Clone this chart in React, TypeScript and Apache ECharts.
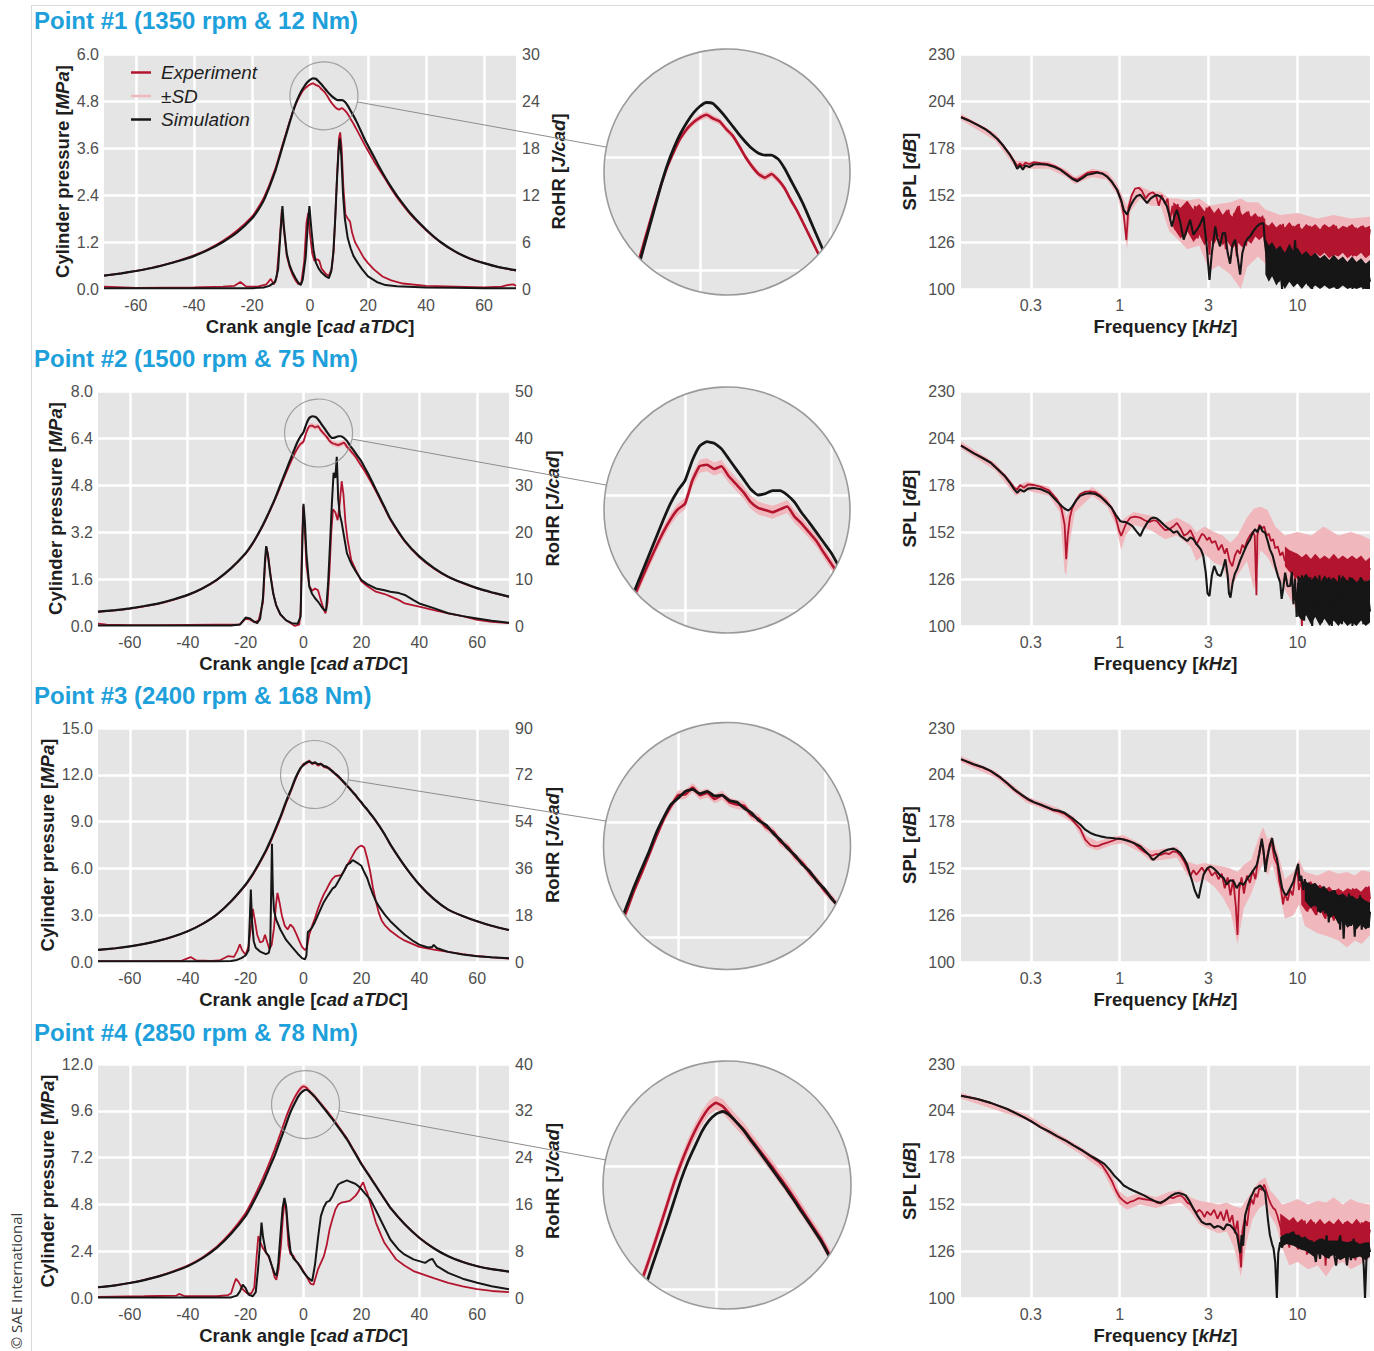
import React, { useEffect, useRef } from 'react';
import * as echarts from 'echarts';

// ---------------- DATA ----------------
const TITLES = ['Point #1 (1350 rpm & 12 Nm)', 'Point #2 (1500 rpm & 75 Nm)', 'Point #3 (2400 rpm & 168 Nm)', 'Point #4 (2850 rpm & 78 Nm)'];
const CA_TICKS = [-60, -40, -20, 0, 20, 40, 60];
const SPL_TICK_KHZ = [0.3162, 1, 3.162, 10];
const SPL_TICK_LABELS = ['0.3', '1', '3', '10'];
const PRESS_MAX = [6, 8, 15, 12];
const PRESS_STEP = [1.2, 1.6, 3, 2.4];
const ROHR_MAX = [30, 50, 90, 40];
const ROHR_STEP = [6, 10, 18, 8];
const SPL_MIN = 100, SPL_MAX = 230, SPL_STEP = 26;
const FREQ_MIN = 0.128, FREQ_MAX = 25.6;

const PRESS_ANGLE = [-71, -65, -60, -55, -50, -45, -40, -35, -30, -25,
  -20, -18, -16, -14,
  -13, -12, -11, -10, -9, -8, -7, -6, -5, -4, -3, -2, -1,
  0, 1, 2, 3, 4, 5, 6, 7, 8, 9, 10, 11, 12, 13, 14, 15, 16, 17, 18, 19, 20, 21, 22, 23, 24,
  26, 28, 30,
  35, 40, 45, 50, 55, 60, 65, 71];

const P1_SIM = [0.34, 0.40, 0.46, 0.53, 0.62, 0.72, 0.84, 1.00, 1.20, 1.45,
  1.80, 2.00, 2.25, 2.60,
  2.80, 3.00, 3.25, 3.50, 3.75, 4.00, 4.25, 4.50, 4.72, 4.90, 5.05, 5.17, 5.27,
  5.34, 5.38, 5.37, 5.30, 5.22, 5.13, 5.04, 4.96, 4.89, 4.84, 4.82, 4.82, 4.78, 4.68, 4.55, 4.42, 4.28, 4.12, 3.96, 3.80, 3.66, 3.52, 3.38, 3.24, 3.10,
  2.84, 2.60, 2.38,
  1.90, 1.52, 1.20, 0.96, 0.78, 0.66, 0.56, 0.48];
const P1_EXP = [0.34, 0.40, 0.46, 0.53, 0.62, 0.73, 0.86, 1.02, 1.23, 1.50,
  1.85, 2.06, 2.32, 2.66,
  2.86, 3.06, 3.30, 3.55, 3.80, 4.04, 4.28, 4.50, 4.70, 4.86, 5.00, 5.10, 5.17,
  5.22, 5.25, 5.21, 5.18, 5.10, 5.03, 4.92, 4.80, 4.70, 4.62, 4.58, 4.62, 4.56, 4.47, 4.34, 4.22, 4.08, 3.94, 3.80, 3.66, 3.53, 3.40, 3.27, 3.15, 3.03,
  2.80, 2.56, 2.34,
  1.87, 1.50, 1.19, 0.95, 0.78, 0.66, 0.56, 0.47];
const P1_SD = [0.01, 0.01, 0.01, 0.01, 0.01, 0.01, 0.01, 0.015, 0.015, 0.015,
  0.02, 0.02, 0.02, 0.025,
  0.025, 0.025, 0.03, 0.03, 0.03, 0.03, 0.03, 0.03, 0.035, 0.035, 0.035, 0.035, 0.035,
  0.035, 0.035, 0.035, 0.035, 0.035, 0.035, 0.035, 0.035, 0.035, 0.035, 0.035, 0.035, 0.035, 0.035, 0.035, 0.03, 0.03, 0.03, 0.03, 0.03, 0.03, 0.03, 0.03, 0.03, 0.03,
  0.025, 0.025, 0.02,
  0.02, 0.015, 0.015, 0.01, 0.01, 0.01, 0.01, 0.01];

const P2_SIM = [0.49, 0.54, 0.60, 0.68, 0.77, 0.90, 1.06, 1.28, 1.57, 1.97,
  2.48, 2.75, 3.08, 3.45,
  3.65, 3.86, 4.08, 4.30, 4.55, 4.80, 5.05, 5.30, 5.55, 5.80, 6.05, 6.28, 6.46,
  6.60, 6.88, 7.08, 7.14, 7.12, 7.04, 6.90, 6.76, 6.62, 6.48, 6.40, 6.42, 6.46, 6.46, 6.40, 6.30, 6.15, 6.02, 5.88, 5.74, 5.60, 5.42, 5.24, 5.05, 4.85,
  4.45, 4.05, 3.65,
  2.90, 2.37, 1.98, 1.68, 1.47, 1.29, 1.15, 1.00];
const P2_EXP = [0.48, 0.53, 0.59, 0.67, 0.76, 0.89, 1.05, 1.27, 1.56, 1.96,
  2.46, 2.73, 3.06, 3.42,
  3.62, 3.83, 4.05, 4.27, 4.50, 4.74, 4.98, 5.22, 5.45, 5.67, 5.88, 6.06, 6.20,
  6.28, 6.60, 6.80, 6.82, 6.76, 6.80, 6.66, 6.55, 6.44, 6.30, 6.22, 6.19, 6.16, 6.20, 6.24, 6.10, 6.00, 5.88, 5.76, 5.60, 5.45, 5.30, 5.13, 4.96, 4.78,
  4.40, 4.01, 3.62,
  2.88, 2.35, 1.96, 1.67, 1.46, 1.28, 1.14, 0.99];
const P2_SD = [0.02, 0.02, 0.02, 0.02, 0.03, 0.03, 0.03, 0.04, 0.04, 0.05,
  0.05, 0.06, 0.06, 0.06,
  0.07, 0.07, 0.07, 0.07, 0.07, 0.08, 0.08, 0.08, 0.08, 0.08, 0.08, 0.08, 0.08,
  0.08, 0.09, 0.09, 0.09, 0.09, 0.09, 0.09, 0.09, 0.09, 0.09, 0.09, 0.09, 0.09, 0.09, 0.09, 0.09, 0.09, 0.08, 0.08, 0.08, 0.08, 0.08, 0.08, 0.08, 0.07,
  0.07, 0.06, 0.06,
  0.05, 0.04, 0.04, 0.03, 0.03, 0.03, 0.02, 0.02];

const P3_SIM = [0.78, 0.88, 1.00, 1.16, 1.37, 1.63, 1.97, 2.43, 3.04, 3.90,
  4.97, 5.50, 6.12, 6.80,
  7.15, 7.55, 7.95, 8.40, 8.85, 9.30, 9.80, 10.30, 10.76, 11.20, 11.70, 12.10, 12.45,
  12.62, 12.80, 12.85, 12.74, 12.80, 12.68, 12.70, 12.56, 12.52, 12.36, 12.24, 12.04, 11.92, 11.70, 11.52, 11.30, 11.12, 10.88, 10.70, 10.44, 10.24, 9.98, 9.78, 9.52, 9.30,
  8.78, 8.20, 7.54,
  6.15, 4.97, 4.05, 3.36, 2.95, 2.61, 2.32, 2.05];
const P3_EXP = [0.78, 0.88, 1.00, 1.16, 1.37, 1.63, 1.97, 2.43, 3.03, 3.88,
  4.93, 5.45, 6.05, 6.72,
  7.07, 7.46, 7.86, 8.30, 8.72, 9.20, 9.68, 10.20, 10.65, 11.12, 11.60, 12.05, 12.40,
  12.70, 12.72, 12.90, 12.70, 12.76, 12.60, 12.70, 12.52, 12.46, 12.42, 12.18, 12.08, 11.86, 11.74, 11.48, 11.34, 11.08, 10.92, 10.66, 10.46, 10.20, 10.00, 9.75, 9.54, 9.28,
  8.76, 8.18, 7.52,
  6.13, 4.96, 4.04, 3.35, 2.94, 2.60, 2.31, 2.04];
const P3_SD = [0.03, 0.03, 0.03, 0.04, 0.04, 0.05, 0.05, 0.06, 0.06, 0.07,
  0.08, 0.08, 0.09, 0.09,
  0.10, 0.10, 0.10, 0.10, 0.10, 0.10, 0.11, 0.11, 0.11, 0.11, 0.11, 0.11, 0.11,
  0.12, 0.12, 0.12, 0.12, 0.12, 0.12, 0.12, 0.12, 0.12, 0.12, 0.12, 0.11, 0.11, 0.11, 0.11, 0.11, 0.11, 0.11, 0.11, 0.10, 0.10, 0.10, 0.10, 0.10, 0.10,
  0.09, 0.09, 0.08,
  0.07, 0.06, 0.05, 0.05, 0.04, 0.04, 0.03, 0.03];

const P4_SIM = [0.55, 0.65, 0.77, 0.92, 1.11, 1.35, 1.63, 2.03, 2.57, 3.30,
  4.20, 4.72, 5.30, 5.90,
  6.25, 6.60, 6.95, 7.29, 7.70, 8.10, 8.50, 8.92, 9.34, 9.70, 10.00, 10.29, 10.50,
  10.63, 10.68, 10.60, 10.46, 10.30, 10.11, 9.93, 9.74, 9.55, 9.36, 9.17, 8.97, 8.76, 8.56, 8.35, 8.14, 7.89, 7.63, 7.38, 7.12, 6.86, 6.64, 6.42, 6.20, 5.97,
  5.52, 5.07, 4.63,
  3.78, 3.09, 2.55, 2.14, 1.85, 1.63, 1.48, 1.35];
const P4_EXP = [0.55, 0.65, 0.77, 0.93, 1.12, 1.37, 1.66, 2.07, 2.62, 3.38,
  4.35, 4.90, 5.50, 6.15,
  6.50, 6.85, 7.22, 7.60, 8.00, 8.42, 8.85, 9.28, 9.66, 10.00, 10.30, 10.55, 10.75,
  10.85, 10.78, 10.62, 10.46, 10.32, 10.14, 9.96, 9.78, 9.60, 9.41, 9.22, 9.02, 8.81, 8.60, 8.39, 8.18, 7.93, 7.67, 7.42, 7.16, 6.90, 6.67, 6.44, 6.22, 5.99,
  5.53, 5.08, 4.63,
  3.78, 3.09, 2.55, 2.14, 1.85, 1.63, 1.48, 1.35];
const P4_SD = [0.03, 0.03, 0.04, 0.04, 0.05, 0.05, 0.06, 0.07, 0.08, 0.09,
  0.10, 0.10, 0.11, 0.11,
  0.12, 0.12, 0.12, 0.13, 0.13, 0.13, 0.13, 0.13, 0.14, 0.14, 0.14, 0.14, 0.14,
  0.14, 0.14, 0.14, 0.14, 0.14, 0.13, 0.13, 0.13, 0.13, 0.13, 0.13, 0.13, 0.13, 0.12, 0.12, 0.12, 0.12, 0.12, 0.12, 0.12, 0.11, 0.11, 0.11, 0.11, 0.10,
  0.10, 0.09, 0.09,
  0.08, 0.07, 0.06, 0.05, 0.05, 0.04, 0.04, 0.03];

// Rate of heat release [cad, J/cad]
const R1_SIM = [[-71, 0.1], [-40, 0.1], [-20, 0.1], [-16, 0.2], [-14, 0.4], [-12, 0.9], [-11, 2.5], [-10.2, 7], [-9.5, 10.6], [-9, 8], [-8, 4.5], [-7, 3], [-6, 2.1], [-5, 1.4], [-4, 0.8], [-3.2, 0.5], [-2.5, 1.2], [-1.5, 4], [-0.8, 8], [-0.2, 10.6], [0.5, 7.5], [1.2, 5], [2, 3.4], [3, 2.6], [4, 2.1], [5.5, 1.6], [6.5, 1.4], [7.3, 2.2], [8, 4.5], [8.7, 9], [9.3, 14], [9.9, 18], [10.3, 19.2], [10.8, 17], [11.4, 12], [12, 9], [13, 6.5], [14, 5.2], [15, 4.2], [16.5, 3.3], [18, 2.5], [20, 1.6], [23, 0.9], [26, 0.5], [30, 0.35], [40, 0.2], [50, 0.15], [60, 0.1], [71, 0.1]];
const R1_EXP = [[-71, 0.3], [-60, 0.15], [-40, 0.2], [-30, 0.3], [-26, 0.4], [-24, 0.9], [-22, 0.3], [-18, 0.3], [-15, 0.6], [-13.5, 1.3], [-12.5, 0.6], [-11.5, 1.5], [-10.5, 6], [-9.7, 10.2], [-9, 7.5], [-8, 4.2], [-7, 2.8], [-6, 1.8], [-5, 1.1], [-4, 0.6], [-3, 0.8], [-2, 3.5], [-1.2, 8.5], [-0.6, 9.7], [0, 7], [0.8, 4.5], [1.5, 3.6], [2.5, 3.8], [3.2, 3.6], [4, 2.6], [5.5, 1.9], [6.5, 1.7], [7.5, 2.6], [8.2, 5], [8.8, 10], [9.4, 15], [10, 19.3], [10.4, 20], [10.9, 18], [11.5, 13], [12.2, 9.5], [13, 9], [13.8, 8.6], [14.5, 7.2], [15.5, 6], [17, 5], [18.5, 4], [20, 3.3], [22, 2.5], [25, 1.6], [28, 1.1], [32, 0.7], [40, 0.4], [50, 0.3], [60, 0.2], [66, 0.3], [68, 0.5], [70, 0.6], [71, 0.4]];
const R2_SIM = [[-71, 0.1], [-40, 0.1], [-25, 0.1], [-22, 0.3], [-20, 1.8], [-18.5, 1.6], [-17, 0.9], [-16, 0.6], [-15, 1.5], [-14, 6], [-13.3, 14], [-12.9, 17], [-12.3, 15], [-11.5, 11], [-10.5, 7], [-9.5, 4.5], [-8, 2.5], [-6, 1.2], [-4, 0.6], [-2, 0.5], [-1, 2], [-0.5, 15], [0, 26], [0.5, 22], [1, 15.5], [2, 8.4], [3, 6.8], [4, 5.9], [5, 5.2], [6, 4.3], [7, 3.5], [7.8, 3.3], [8.5, 9], [9.2, 18], [9.8, 26], [10.4, 32.6], [11, 31.5], [11.5, 36], [12, 27], [12.6, 23.5], [13.2, 22], [14, 19.1], [15, 15.5], [16, 14], [17, 12.7], [18.5, 11.2], [20, 9.8], [22, 8.9], [25, 8], [28, 7.6], [30, 7.3], [33, 7], [35, 6.6], [38, 5.5], [40, 4.8], [45, 3.8], [50, 2.7], [55, 2.1], [60, 1.6], [65, 1.1], [71, 0.7]];
const R2_EXP = [[-71, 0.5], [-68, 0.3], [-60, 0.2], [-50, 0.2], [-40, 0.25], [-30, 0.3], [-22, 0.3], [-20, 1.5], [-18.5, 1.4], [-17, 0.8], [-15.5, 1.2], [-14, 5], [-13.3, 13], [-12.8, 16.8], [-12.2, 15], [-11.3, 10.5], [-10.3, 6.5], [-9.3, 4.2], [-8, 2.4], [-6, 1.2], [-4, 0.4], [-3, 0], [-1.5, 0.3], [-1, 3], [-0.5, 18], [-0.1, 25.5], [0.4, 21], [1, 13], [2, 8.5], [3, 7.5], [4, 8], [5, 7.6], [6, 5.5], [7, 3.5], [7.6, 2.7], [8.3, 5], [9, 12], [9.6, 20], [10.2, 24.8], [11, 24.2], [11.8, 22.5], [12.5, 26], [13.2, 30.8], [13.8, 28], [14.5, 22], [15.2, 18.5], [16.5, 14], [18, 12], [20, 9.5], [22, 8.5], [25, 7.3], [28, 6.8], [30, 6.3], [33, 5.5], [35, 4.8], [38, 4.4], [40, 4.1], [45, 3.4], [50, 2.7], [55, 2.1], [60, 1.3], [65, 0.9], [71, 0.6]];
const R3_SIM = [[-71, 0.3], [-50, 0.3], [-30, 0.3], [-25, 0.4], [-23, 0.8], [-21.5, 1.5], [-20, 2.5], [-19, 4.5], [-18.6, 15], [-18.2, 27.9], [-17.8, 16], [-17.2, 8], [-16.5, 5.5], [-15, 4], [-13, 3], [-12, 3.5], [-11.5, 6], [-11.2, 25], [-10.9, 45.5], [-10.6, 28], [-10.2, 20], [-9.5, 16.5], [-8, 12.5], [-6, 8.5], [-4, 5.8], [-2, 3.2], [-0.5, 1.5], [0.5, 1], [1, 2.5], [1.5, 11.5], [2.2, 12.2], [3, 13.3], [4, 15.5], [5, 18], [6, 20.5], [7, 23], [8, 24.8], [9, 26.5], [10, 28.2], [11, 29], [12, 31], [13, 33], [14, 35], [15, 37.3], [16, 38], [17, 39.2], [18, 38.5], [19, 37.8], [20, 37], [21, 34.5], [22, 32.3], [23, 29], [24, 26], [25, 23.4], [26, 21.5], [28, 18.3], [30, 15.7], [33, 12.5], [35, 10.5], [38, 8], [40, 6.7], [43, 5.6], [44.5, 5.8], [45, 6.6], [46, 5.4], [48, 4.6], [50, 3.9], [55, 2.9], [60, 2.2], [65, 1.8], [71, 1.4]];
const R3_EXP = [[-71, 0.3], [-50, 0.4], [-42, 0.5], [-39, 1.9], [-37, 0.6], [-32, 0.4], [-29, 0.6], [-26, 2.3], [-24, 2], [-22.8, 4.5], [-22, 6.8], [-21.2, 4.5], [-20, 2.8], [-19, 6], [-18.2, 13], [-17.5, 20.4], [-16.8, 16], [-16, 10.5], [-15, 7.5], [-14, 8], [-13.3, 10.5], [-12.5, 7.5], [-11.8, 5], [-11, 6.5], [-10.2, 13], [-9.5, 22], [-9, 26.6], [-8.3, 23], [-7.5, 18], [-6.5, 14], [-5.5, 12.5], [-4.5, 14.4], [-3.5, 13.2], [-2.5, 10.8], [-1.5, 8.2], [-0.5, 5.8], [0.5, 4.6], [1.2, 5.6], [2, 10.5], [3, 14], [4, 17], [5, 20.5], [6, 23.4], [7, 26], [8, 28], [9, 30.2], [10, 32], [11, 33], [12, 33.2], [13, 33.4], [14, 35], [15, 37], [16, 39], [17, 41], [18, 43], [19, 44.2], [20, 44.8], [21, 44], [22, 40], [23, 35], [24, 28.5], [25, 23.4], [26, 19], [27, 16], [28, 14.3], [30, 12], [33, 9.5], [35, 8.2], [40, 5.8], [45, 4.8], [50, 3.9], [55, 3], [60, 2.3], [65, 1.8], [71, 1.3]];
const R4_SIM = [[-71, 0.1], [-50, 0.1], [-30, 0.1], [-25, 0.1], [-23, 0.4], [-22, 1.1], [-21, 2.3], [-20, 1.7], [-19, 0.6], [-17.5, 0.3], [-16.5, 1], [-15.7, 5], [-15, 9.4], [-14.5, 12.9], [-14, 10.5], [-13, 7.8], [-12, 7.2], [-11, 5.6], [-10, 4.2], [-9.3, 3.8], [-8.7, 6], [-8, 10.6], [-7.2, 15.5], [-6.6, 17.1], [-6, 15.7], [-5.3, 11.5], [-4.5, 8], [-3.5, 6.8], [-2, 6], [0, 4.4], [1.5, 3.5], [3, 2.9], [4, 5.8], [5, 10.2], [6, 14], [7, 15.5], [8, 16.4], [9, 16.6], [10, 17.4], [11, 18.5], [12, 19.4], [13, 19.7], [14, 19.9], [15, 20.1], [16, 19.9], [17, 19.7], [18, 19.5], [19, 19.1], [20, 18.6], [21, 18], [23, 16.9], [25, 15], [27, 13], [30, 10], [33, 8.2], [35, 7.4], [38, 6.6], [40, 6.3], [42, 6.0], [43.5, 6.5], [44.5, 6.7], [46, 5.5], [48, 4.9], [50, 4.3], [55, 3.3], [60, 2.6], [65, 2], [71, 1.5]];
const R4_EXP = [[-71, 0.2], [-55, 0.3], [-44, 0.4], [-43, 0.7], [-41, 0.3], [-30, 0.3], [-26, 0.5], [-25, 0.8], [-24, 2.4], [-23.3, 3.3], [-22.5, 2.8], [-21, 1.5], [-19.5, 0.8], [-18, 0.8], [-17, 1.8], [-16.3, 6.5], [-15.6, 10.6], [-15, 9.6], [-14, 8.5], [-13, 7.8], [-12, 7], [-11, 5.6], [-10, 3.6], [-9.4, 3.1], [-8.6, 5], [-7.8, 9], [-7.1, 14], [-6.5, 16.6], [-6, 15.1], [-5.2, 9], [-4.5, 7.5], [-3.5, 7.2], [-2.5, 6.2], [-1, 5.4], [1, 3.7], [2.5, 2.4], [3.5, 2.3], [5, 4.9], [6, 6], [7, 7.1], [8, 9], [9, 11.7], [10, 13.5], [11, 15.1], [12, 16], [13, 16.3], [14, 16.4], [16, 16.6], [18, 17.5], [19, 18.2], [20, 19.3], [20.6, 19.8], [21.5, 18.5], [22, 18], [23.5, 15.5], [25, 12.9], [27, 10.5], [28, 9.4], [30, 8], [32, 6.6], [35, 5.5], [38, 4.6], [42, 3.9], [45, 3.4], [50, 2.6], [55, 2], [60, 1.5], [65, 1.2], [71, 1]];

// Sound pressure level spectra [kHz, dB]
const S1_SIM = [[0.128, 195], [0.14, 193.4], [0.158, 190.8], [0.175, 188.4], [0.188, 186.2], [0.205, 183], [0.223, 178.8], [0.24, 174.5], [0.254, 170.5], [0.265, 166.5], [0.275, 168.3], [0.285, 166], [0.295, 168.4], [0.31, 167.5], [0.33, 169], [0.36, 169], [0.39, 168.7], [0.43, 167.5], [0.465, 165.9], [0.5, 163.5], [0.54, 161], [0.576, 159.6], [0.62, 161.5], [0.656, 163.2], [0.7, 163.8], [0.746, 164.5], [0.8, 163.8], [0.849, 162.2], [0.9, 159.5], [0.966, 154.9], [1.02, 149], [1.054, 143.8], [1.1, 141.1], [1.15, 146], [1.2, 149.3], [1.25, 151.5], [1.306, 152.1], [1.36, 150], [1.425, 147.5], [1.49, 150], [1.553, 151.2], [1.62, 152], [1.69, 151.2], [1.77, 149], [1.845, 145.7], [1.9, 141], [1.967, 134.6], [2.03, 140], [2.099, 143.8], [2.19, 137], [2.29, 127.3], [2.39, 133], [2.49, 138.3], [2.6, 130], [2.72, 132.8], [2.84, 136], [2.96, 140.1], [3.08, 125], [3.2, 105], [3.3, 120], [3.45, 134.6], [3.55, 128], [3.67, 123.6], [3.8, 131], [3.92, 130.9], [4.05, 120], [4.18, 114], [4.3, 124], [4.46, 127.3], [4.6, 118], [4.76, 108], [4.9, 120], [5.08, 125.5], [5.25, 128], [5.42, 129.1], [5.65, 132], [5.91, 134.6], [6.15, 136], [6.44, 136.5], [6.55, 127], [6.73, 116], [6.9, 124], [7.05, 110], [7.2, 121], [7.33, 123.6], [7.5, 108], [7.7, 117], [7.85, 104], [8.0, 112], [8.2, 100], [8.4, 115], [8.53, 118], [8.7, 104], [8.9, 116], [9.1, 119.9], [9.3, 106], [9.5, 114], [9.7, 127], [9.9, 110], [10.1, 118], [10.36, 103], [10.6, 116], [10.9, 106], [11.2, 117], [11.5, 102], [11.8, 114], [12.1, 100], [12.5, 116], [12.9, 104], [13.3, 115], [13.7, 101], [14.1, 113], [14.6, 102], [15.1, 116], [15.6, 104], [16.1, 113], [16.6, 100], [17.2, 115], [17.8, 103], [18.4, 114], [19, 101], [19.7, 113], [20.4, 100], [21.1, 115], [21.9, 102], [22.7, 112], [23.5, 100], [24.4, 114], [25.6, 104]];
const S1_EXP = [[0.128, 195.2], [0.14, 193.6], [0.158, 191], [0.175, 188.6], [0.188, 186.4], [0.205, 183.2], [0.223, 179], [0.24, 174.8], [0.254, 171], [0.265, 168], [0.275, 169.5], [0.285, 168], [0.295, 170], [0.31, 169], [0.33, 170.2], [0.36, 169.6], [0.39, 169.2], [0.43, 168], [0.465, 166.2], [0.5, 164], [0.54, 161.5], [0.576, 160.5], [0.62, 162.5], [0.656, 164.2], [0.7, 164.8], [0.746, 164.8], [0.8, 164], [0.849, 162.2], [0.9, 159.5], [0.966, 155], [1.02, 149], [1.054, 141], [1.09, 127], [1.12, 145], [1.17, 152], [1.22, 155.5], [1.28, 156], [1.33, 154.5], [1.4, 150], [1.46, 152.5], [1.53, 153.5], [1.6, 152], [1.66, 146], [1.72, 152], [1.8, 147], [1.86, 150], [1.92, 138], [1.98, 146], [2.05, 133], [2.12, 147], [2.2, 136], [2.28, 144], [2.36, 130], [2.45, 145], [2.55, 133], [2.65, 146], [2.75, 128], [2.85, 143], [2.96, 131], [3.08, 145], [3.2, 119], [3.3, 140], [3.42, 128], [3.55, 143], [3.68, 125], [3.8, 141], [3.95, 122], [4.1, 144], [4.25, 126], [4.4, 142], [4.55, 118], [4.7, 146], [4.85, 128], [5.0, 141], [5.15, 124], [5.3, 143], [5.5, 130], [5.7, 141], [5.9, 131], [6.1, 140], [6.3, 132], [6.5, 139], [6.7, 120], [6.9, 134], [7.1, 118], [7.3, 135], [7.5, 119], [7.8, 134], [8.0, 118], [8.3, 136], [8.6, 119], [8.9, 134], [9.2, 120], [9.5, 135], [9.8, 118], [10.2, 136], [10.6, 119], [11.0, 134], [11.4, 120], [11.8, 135], [12.3, 118], [12.8, 134], [13.3, 119], [13.9, 135], [14.5, 120], [15.1, 134], [15.8, 118], [16.5, 135], [17.2, 120], [18, 134], [18.8, 119], [19.6, 135], [20.5, 118], [21.4, 134], [22.4, 120], [23.4, 135], [24.5, 119], [25.6, 133]];
const S1_SD = [[0.128, 193.5, 197], [0.2, 182, 186], [0.26, 167, 171], [0.3, 166.5, 170.5], [0.4, 166.5, 170.5], [0.5, 162, 166], [0.56, 158, 162], [0.7, 162, 166.5], [0.85, 160.5, 165], [0.97, 152, 158], [1.05, 138, 150], [1.1, 122, 146], [1.15, 143, 152], [1.3, 150, 157], [1.5, 146, 154], [1.7, 146, 154], [1.9, 132, 150], [2.1, 128, 150], [2.4, 122, 149], [2.8, 124, 150], [3.2, 110, 146], [3.6, 113, 147], [4.2, 108, 148], [4.8, 100, 150], [5.2, 112, 148], [6, 118, 148], [6.6, 114, 144], [8, 112, 141], [10, 113, 142], [13, 112, 139], [16, 114, 141], [20, 113, 139], [25.6, 115, 140]];
const S1_EXP_DENSE = [[2.0, 134, 148], [2.2, 128, 145], [2.4, 132, 149], [2.6, 126, 144], [2.8, 130, 147], [3.0, 124, 143], [3.2, 128, 146], [3.4, 125, 142], [3.6, 129, 145], [3.8, 124, 141], [4.0, 127, 144], [4.3, 122, 140], [4.6, 126, 146], [4.9, 123, 141], [5.2, 127, 143], [5.5, 125, 140], [5.8, 129, 142], [6.1, 127, 139], [6.4, 129, 141], [6.6, 121, 136], [6.9, 119, 135], [7.2, 121, 137], [7.6, 118, 134], [8.0, 120, 136], [8.5, 118, 134], [9.0, 120, 137], [9.5, 118, 134], [10, 121, 136], [10.6, 118, 133], [11.2, 120, 136], [11.9, 117, 134], [12.6, 120, 136], [13.4, 118, 133], [14.2, 120, 136], [15.1, 117, 134], [16, 119, 136], [17, 118, 133], [18, 120, 135], [19.1, 117, 134], [20.3, 119, 136], [21.5, 118, 133], [22.8, 120, 135], [24.2, 117, 134], [25.6, 119, 135]];
const S1_SIM_DENSE = [[6.6, 108, 128], [6.9, 104, 124], [7.2, 107, 126], [7.6, 102, 122], [8.0, 105, 124], [8.5, 100, 120], [9.0, 104, 125], [9.5, 101, 121], [10, 103, 123], [10.6, 100, 119], [11.2, 103, 121], [11.9, 100, 118], [12.6, 102, 120], [13.4, 100, 117], [14.2, 102, 119], [15.1, 100, 116], [16, 101, 119], [17, 100, 116], [18, 102, 118], [19.1, 100, 115], [20.3, 101, 118], [21.5, 100, 115], [22.8, 101, 117], [24.2, 100, 114], [25.6, 100, 116]];

const S2_SIM = [[0.128, 199.8], [0.151, 195.5], [0.17, 192.8], [0.188, 190.3], [0.205, 186.8], [0.225, 183], [0.24, 179.5], [0.255, 175.6], [0.265, 173.7], [0.275, 175.5], [0.289, 174.3], [0.305, 176], [0.329, 176.3], [0.36, 175.6], [0.4, 173.7], [0.444, 169], [0.47, 166.5], [0.49, 165], [0.51, 163.9], [0.525, 164.5], [0.54, 166], [0.57, 169.5], [0.6, 172], [0.64, 173.2], [0.684, 173.5], [0.73, 173], [0.78, 171.5], [0.84, 168.5], [0.9, 165.4], [0.95, 161.5], [1.005, 158.1], [1.04, 157.6], [1.08, 157.5], [1.13, 156.5], [1.18, 155.3], [1.24, 152.5], [1.306, 149.8], [1.36, 153.5], [1.43, 157.2], [1.49, 159.3], [1.55, 160], [1.62, 159.4], [1.69, 158], [1.77, 156], [1.85, 154.4], [1.93, 153.2], [2.01, 151.6], [2.1, 152.5], [2.2, 149.8], [2.3, 148.5], [2.4, 147], [2.5, 149], [2.6, 148], [2.7, 145.5], [2.86, 142.4], [2.95, 139], [3.05, 129.5], [3.12, 118], [3.2, 116.6], [3.3, 128], [3.4, 133.2], [3.55, 128.5], [3.7, 127.7], [3.82, 132], [3.93, 136.9], [4.05, 128], [4.12, 118], [4.2, 115.7], [4.32, 124], [4.45, 129], [4.58, 131.4], [4.75, 136], [4.97, 140.6], [5.2, 145], [5.42, 148], [5.6, 151.5], [5.77, 153.5], [5.95, 152], [6.17, 155.3], [6.35, 152.5], [6.58, 151.6], [6.8, 147], [7.0, 142.4], [7.25, 139], [7.5, 133.2], [7.75, 128], [8.0, 124], [8.15, 115], [8.3, 120], [8.53, 129.5], [8.8, 122], [9.1, 122.1], [9.3, 130], [9.5, 112], [9.7, 126], [9.9, 105], [10.1, 124], [10.35, 110], [10.6, 128], [10.9, 103], [11.2, 124], [11.5, 108], [11.8, 127], [12.1, 100], [12.5, 125], [12.9, 106], [13.3, 128], [13.7, 102], [14.1, 124], [14.6, 108], [15.1, 127], [15.6, 100], [16.1, 123], [16.6, 106], [17.2, 128], [17.8, 101], [18.4, 124], [19, 105], [19.7, 127], [20.4, 100], [21.1, 125], [21.9, 104], [22.7, 127], [23.5, 101], [24.4, 125], [25.6, 108]];
const S2_EXP = [[0.128, 200], [0.151, 195.7], [0.17, 193], [0.188, 190.5], [0.205, 187], [0.225, 183.5], [0.24, 180], [0.255, 176.5], [0.265, 175.5], [0.275, 178], [0.289, 176.5], [0.305, 178.3], [0.329, 178], [0.36, 177], [0.4, 175], [0.444, 170], [0.47, 165], [0.49, 156], [0.5, 137], [0.51, 150], [0.525, 160], [0.54, 165], [0.57, 170], [0.6, 173], [0.64, 174.3], [0.684, 174.5], [0.73, 174], [0.78, 172], [0.84, 169], [0.9, 165.5], [0.95, 160], [0.99, 153], [1.02, 149.8], [1.05, 153], [1.09, 157], [1.15, 160], [1.22, 160.5], [1.3, 160], [1.38, 158.5], [1.46, 157.5], [1.55, 158.5], [1.62, 158], [1.7, 155.5], [1.8, 153], [1.9, 153.5], [2.0, 155], [2.1, 157], [2.2, 154], [2.3, 150], [2.4, 151], [2.5, 153], [2.6, 149.5], [2.7, 145], [2.8, 148], [2.9, 151], [3.0, 150], [3.1, 147.5], [3.2, 149], [3.3, 146], [3.45, 147], [3.6, 142], [3.75, 145], [3.9, 140], [4.0, 143], [4.15, 136], [4.3, 133], [4.45, 139], [4.6, 142], [4.75, 140], [4.9, 145], [5.05, 143], [5.2, 147], [5.4, 150], [5.6, 152], [5.75, 150], [5.88, 117], [5.95, 150], [6.1, 156], [6.3, 154], [6.5, 155], [6.7, 150], [6.9, 151], [7.1, 147], [7.3, 148], [7.5, 143], [7.75, 144], [8.0, 139], [8.25, 141], [8.5, 136], [8.8, 138], [9.1, 133], [9.4, 136], [9.7, 126], [10.0, 138], [10.3, 124], [10.6, 100], [10.8, 134], [11.1, 125], [11.4, 137], [11.7, 122], [12.0, 135], [12.4, 124], [12.8, 137], [13.2, 113], [13.6, 135], [14.0, 125], [14.5, 137], [15.0, 120], [15.5, 135], [16.0, 125], [16.6, 137], [17.2, 118], [17.8, 136], [18.4, 126], [19.0, 135], [19.7, 115], [20.4, 134], [21.1, 126], [21.9, 136], [22.7, 117], [23.5, 133], [24.4, 127], [25.6, 132]];
const S2_SD = [[0.128, 198, 202], [0.2, 186, 190], [0.26, 172, 177], [0.3, 175, 180], [0.4, 172, 177], [0.46, 163, 169], [0.49, 130, 165], [0.5, 128, 160], [0.52, 145, 164], [0.56, 163, 168], [0.7, 172, 177], [0.85, 166, 171], [0.95, 156, 163], [1.02, 142, 158], [1.08, 150, 160], [1.2, 156, 163], [1.5, 153, 161], [1.8, 148, 157], [2.1, 150, 160], [2.5, 144, 156], [2.7, 136, 152], [3.0, 140, 155], [3.4, 135, 152], [3.8, 133, 150], [4.2, 120, 146], [4.6, 128, 150], [5.2, 136, 160], [5.7, 120, 165], [6.2, 142, 166], [6.8, 138, 164], [7.5, 130, 155], [8.5, 120, 150], [10, 108, 152], [12, 110, 150], [14, 108, 155], [17, 112, 150], [20, 110, 152], [23, 112, 150], [25.6, 114, 148]];
const S2_EXP_DENSE = [[8.5, 133, 144], [9.0, 130, 142], [9.5, 128, 141], [10, 126, 140], [10.6, 124, 138], [11.2, 127, 140], [11.9, 123, 137], [12.6, 126, 140], [13.4, 124, 137], [14.2, 127, 139], [15.1, 124, 137], [16, 126, 140], [17, 123, 137], [18, 126, 139], [19.1, 124, 137], [20.3, 126, 139], [21.5, 123, 137], [22.8, 126, 139], [24.2, 124, 136], [25.6, 126, 138]];
const S2_SIM_DENSE = [[10, 106, 128], [10.6, 103, 126], [11.2, 106, 129], [11.9, 101, 125], [12.6, 105, 128], [13.4, 100, 124], [14.2, 104, 128], [15.1, 100, 125], [16, 103, 127], [17, 100, 124], [18, 103, 128], [19.1, 100, 125], [20.3, 102, 127], [21.5, 100, 124], [22.8, 103, 127], [24.2, 100, 124], [25.6, 102, 126]];

const S3_SIM = [[0.128, 212.7], [0.151, 209.9], [0.17, 208.2], [0.188, 206.2], [0.214, 202.4], [0.235, 199], [0.255, 195.9], [0.28, 193], [0.307, 190.3], [0.33, 188.8], [0.358, 187.5], [0.39, 186], [0.42, 184.7], [0.455, 184], [0.49, 182.9], [0.54, 180], [0.6, 176.4], [0.64, 173.5], [0.684, 171.7], [0.73, 170.6], [0.78, 169.8], [0.84, 169.2], [0.9, 168.9], [0.95, 168.6], [1.005, 168.5], [1.07, 167.8], [1.14, 167], [1.22, 165.8], [1.306, 164.3], [1.38, 162], [1.46, 159.6], [1.51, 157.5], [1.55, 156.8], [1.62, 158.5], [1.7, 160.5], [1.77, 161.5], [1.88, 162.5], [2.01, 163], [2.1, 162], [2.2, 160.5], [2.3, 157.5], [2.4, 154], [2.48, 149], [2.56, 144.7], [2.64, 140], [2.72, 137], [2.78, 135.4], [2.85, 141], [2.96, 148.4], [3.1, 152], [3.24, 153.1], [3.38, 152], [3.52, 150.3], [3.68, 148], [3.85, 146.6], [4.0, 143], [4.2, 145.5], [4.38, 144.7], [4.55, 141], [4.75, 144], [4.97, 142.8], [5.2, 146], [5.42, 148.4], [5.65, 151], [5.91, 154], [6.1, 160], [6.3, 168.5], [6.45, 162], [6.6, 150], [6.73, 155.9], [6.9, 162], [7.05, 166], [7.2, 168.8], [7.4, 162], [7.66, 157.7], [7.9, 150], [8.2, 141], [8.45, 138], [8.7, 137.2], [9.1, 141], [9.5, 144.7], [9.8, 150], [10.1, 154.5], [10.3, 145], [10.5, 148], [10.8, 140], [11.0, 146], [11.3, 138], [11.6, 144], [11.9, 135], [12.2, 143], [12.5, 131], [12.8, 141], [13.1, 128], [13.4, 140], [13.7, 133], [14.0, 142], [14.3, 127], [14.7, 139], [15.0, 122], [15.4, 138], [15.8, 130], [16.2, 140], [16.6, 125], [17.0, 137], [17.4, 118], [17.8, 136], [18.2, 113], [18.6, 134], [19.0, 126], [19.5, 138], [20.0, 120], [20.5, 135], [21.0, 114], [21.5, 133], [22.0, 125], [22.5, 137], [23.0, 118], [23.5, 134], [24.0, 122], [24.6, 133], [25.1, 119], [25.6, 128]];
const S3_EXP = [[0.128, 212.5], [0.151, 209.7], [0.17, 208], [0.188, 206], [0.214, 202.2], [0.235, 198.8], [0.255, 195.6], [0.28, 192.7], [0.307, 190], [0.33, 188.6], [0.358, 187.3], [0.39, 185.8], [0.42, 184.3], [0.455, 183.5], [0.49, 182.3], [0.54, 179], [0.6, 174], [0.64, 168], [0.684, 165], [0.72, 164.3], [0.76, 164.5], [0.8, 165.5], [0.86, 166.5], [0.92, 167.5], [0.98, 168.5], [1.05, 168.3], [1.12, 167.5], [1.2, 166], [1.28, 163.5], [1.36, 161.5], [1.44, 160], [1.52, 159], [1.6, 160], [1.7, 159.5], [1.8, 160.5], [1.9, 160], [2.0, 161.5], [2.1, 161], [2.2, 159], [2.3, 156], [2.4, 152], [2.5, 148], [2.6, 151], [2.7, 148.5], [2.8, 150.5], [2.9, 152.5], [3.0, 150], [3.15, 152], [3.3, 148], [3.45, 150], [3.6, 146], [3.75, 149], [3.9, 141], [4.05, 147], [4.2, 137], [4.35, 146], [4.5, 131], [4.6, 115], [4.7, 140], [4.85, 147], [5.0, 138], [5.2, 148], [5.4, 144], [5.6, 151], [5.8, 146], [6.0, 157], [6.15, 163], [6.3, 167], [6.45, 160], [6.6, 154], [6.8, 160], [7.0, 166], [7.2, 165], [7.4, 158], [7.7, 154], [7.9, 145], [8.1, 140], [8.3, 132], [8.5, 138], [8.8, 134], [9.1, 140], [9.4, 137], [9.7, 147], [10.0, 152], [10.2, 140], [10.5, 145], [10.8, 133], [11.1, 141], [11.4, 128], [11.7, 139], [12.0, 131], [12.4, 140], [12.8, 126], [13.2, 138], [13.6, 129], [14.0, 137], [14.4, 124], [14.8, 139], [15.2, 130], [15.6, 140], [16.0, 123], [16.5, 138], [17.0, 128], [17.5, 140], [18.0, 126], [18.5, 137], [19.0, 121], [19.5, 139], [20.0, 128], [20.5, 141], [21.0, 125], [21.6, 136], [22.2, 122], [22.8, 138], [23.4, 126], [24.0, 140], [24.6, 127], [25.2, 142], [25.6, 135]];
const S3_SD = [[0.128, 211, 214.5], [0.2, 202.5, 206], [0.3, 188.5, 192], [0.45, 182, 185.5], [0.55, 177, 181], [0.65, 164, 170], [0.75, 162, 167], [0.9, 165, 169.5], [1.05, 166, 170.5], [1.3, 161, 166], [1.5, 156, 162], [1.8, 157, 163], [2.1, 158, 164], [2.4, 148, 156], [2.7, 144, 154], [3.0, 146, 155], [3.4, 142, 154], [3.8, 136, 153], [4.2, 128, 152], [4.6, 110, 150], [5.0, 130, 154], [5.5, 138, 157], [6.0, 148, 168], [6.4, 155, 175], [6.8, 148, 168], [7.2, 155, 170], [7.8, 142, 160], [8.5, 124, 146], [9.5, 126, 150], [10.2, 132, 157], [11, 120, 150], [13, 116, 148], [15, 114, 151], [17, 112, 149], [19, 108, 150], [21, 112, 148], [23, 110, 151], [25.6, 115, 150]];
const S3_EXP_DENSE = [[10.5, 132, 146], [11.2, 128, 143], [11.9, 130, 145], [12.6, 126, 141], [13.4, 129, 143], [14.2, 124, 140], [15.1, 127, 142], [16, 123, 139], [17, 126, 141], [18, 122, 139], [19.1, 125, 141], [20.3, 122, 140], [21.5, 125, 141], [22.8, 122, 139], [24.2, 125, 142], [25.6, 124, 141]];
const S3_SIM_DENSE = [[11, 134, 145], [11.9, 130, 143], [12.6, 132, 144], [13.4, 127, 141], [14.2, 129, 142], [15.1, 124, 139], [16, 126, 140], [17, 121, 137], [18, 123, 138], [19.1, 119, 136], [20.3, 121, 137], [21.5, 118, 135], [22.8, 121, 136], [24.2, 118, 134], [25.6, 120, 133]];

const S4_SIM = [[0.128, 212.4], [0.158, 210.6], [0.188, 208.4], [0.233, 205], [0.289, 200.4], [0.32, 198], [0.358, 194.9], [0.4, 192.5], [0.444, 189.9], [0.5, 187.3], [0.552, 184.7], [0.62, 181.8], [0.684, 179.1], [0.75, 176.8], [0.82, 174.5], [0.88, 171.2], [0.93, 168.1], [1.0, 165], [1.054, 162.5], [1.12, 161], [1.19, 159.7], [1.28, 158.3], [1.37, 157], [1.46, 155.5], [1.55, 154.2], [1.62, 153.4], [1.69, 152.9], [1.77, 153.8], [1.85, 155.1], [1.95, 156.8], [2.05, 158], [2.15, 158.3], [2.25, 157.8], [2.35, 157], [2.48, 153.5], [2.6, 149.6], [2.75, 145.5], [2.9, 142.2], [3.05, 141], [3.23, 141.2], [3.4, 139], [3.55, 140], [3.7, 139.4], [3.85, 138], [4.0, 141], [4.2, 140.3], [4.4, 138], [4.58, 134.8], [4.7, 128], [4.77, 125], [4.85, 135], [4.95, 129], [5.08, 145.9], [5.25, 151], [5.42, 155.1], [5.6, 158], [5.77, 160.7], [5.95, 161.5], [6.17, 162.5], [6.35, 161], [6.58, 158.8], [6.72, 150], [6.85, 142.2], [7.0, 135], [7.2, 130], [7.34, 127.4], [7.5, 120], [7.66, 100], [7.8, 125], [8.0, 131], [8.2, 128], [8.4, 133], [8.7, 134.8], [8.95, 130], [9.2, 136], [9.5, 136.6], [9.8, 131], [10.1, 135], [10.4, 132.9], [10.8, 128], [11.0, 134], [11.3, 131], [11.6, 125], [12.0, 132], [12.3, 127.4], [12.7, 120], [13.0, 130], [13.4, 121.8], [13.8, 133], [14.2, 127], [14.6, 134.8], [15.0, 122], [15.5, 131], [16.0, 125.5], [16.5, 118], [17.0, 130], [17.4, 134.8], [17.9, 124], [18.4, 130], [19.0, 118.1], [19.5, 128], [20.0, 121], [20.7, 132.9], [21.3, 125], [21.9, 130], [22.5, 123.7], [23.0, 130], [23.6, 118], [24.0, 100], [24.5, 124], [25.0, 131], [25.6, 125.5]];
const S4_EXP = [[0.128, 212.4], [0.158, 210.6], [0.188, 208.4], [0.233, 205], [0.289, 200.4], [0.32, 198], [0.358, 194.9], [0.4, 192.5], [0.444, 189.9], [0.5, 187.3], [0.552, 184.7], [0.62, 181.8], [0.684, 178.8], [0.75, 176], [0.8, 173.5], [0.85, 169.5], [0.9, 165.3], [0.95, 160], [1.0, 156], [1.05, 154], [1.1, 152.5], [1.15, 153.5], [1.2, 154], [1.28, 155.5], [1.35, 155], [1.45, 154.5], [1.55, 154], [1.62, 153], [1.7, 152.5], [1.8, 154], [1.9, 156], [2.0, 155.5], [2.1, 156.5], [2.2, 157], [2.3, 155.5], [2.4, 153], [2.5, 152], [2.6, 149.5], [2.7, 147.5], [2.8, 149], [2.9, 147.7], [3.0, 145], [3.1, 148], [3.25, 146], [3.4, 149], [3.55, 144], [3.7, 148], [3.85, 143], [4.0, 149], [4.15, 142], [4.3, 146], [4.45, 136], [4.6, 143], [4.75, 124], [4.82, 117], [4.9, 137], [5.05, 144], [5.2, 140], [5.35, 150], [5.5, 155], [5.65, 152], [5.8, 158], [5.95, 156], [6.1, 161], [6.3, 160], [6.5, 163], [6.7, 159], [6.9, 155], [7.1, 152], [7.3, 150], [7.5, 149], [7.7, 146], [7.9, 142], [8.1, 138], [8.3, 140], [8.5, 133], [8.75, 139], [9.0, 128], [9.25, 141], [9.5, 131], [9.8, 142], [10.1, 127], [10.4, 140], [10.7, 132], [11.0, 143], [11.3, 124], [11.6, 140], [12.0, 130], [12.4, 142], [12.8, 126], [13.2, 139], [13.6, 131], [14.0, 141], [14.4, 118], [14.8, 138], [15.2, 129], [15.6, 140], [16.0, 126], [16.5, 141], [17.0, 122], [17.5, 139], [18.0, 131], [18.5, 142], [19.0, 125], [19.5, 140], [20.0, 129], [20.6, 141], [21.2, 121], [21.8, 139], [22.4, 130], [23.0, 142], [23.6, 125], [24.2, 140], [24.8, 131], [25.6, 138]];
const S4_SD = [[0.128, 210.8, 214], [0.3, 198.8, 202], [0.6, 180, 184], [0.8, 171, 176], [0.9, 161, 169], [1.0, 152, 159], [1.1, 149, 156], [1.3, 152, 158.5], [1.6, 150, 156], [1.9, 152, 159], [2.2, 153, 160], [2.5, 148, 156], [2.8, 141, 154], [3.2, 138, 153], [3.6, 136, 152], [4.0, 137, 153], [4.4, 128, 151], [4.8, 112, 150], [5.2, 132, 155], [5.6, 144, 160], [6.1, 150, 165], [6.6, 152, 167], [7.0, 146, 160], [7.6, 140, 156], [8.2, 128, 152], [9, 118, 153], [10, 120, 155], [11.5, 116, 152], [13, 118, 154], [14.5, 112, 153], [16, 118, 156], [18, 120, 152], [20, 116, 155], [22, 118, 153], [25.6, 122, 152]];
const S4_EXP_DENSE = [[8.0, 135, 147], [8.5, 131, 145], [9.0, 129, 143], [9.5, 131, 145], [10, 127, 142], [10.6, 129, 144], [11.2, 126, 141], [11.9, 129, 144], [12.6, 126, 141], [13.4, 128, 144], [14.2, 125, 141], [15.1, 128, 143], [16, 125, 141], [17, 128, 144], [18, 126, 141], [19.1, 128, 143], [20.3, 125, 141], [21.5, 128, 144], [22.8, 126, 141], [24.2, 128, 143], [25.6, 127, 142]];
const S4_SIM_DENSE = [[8.0, 128, 134], [8.7, 130, 136], [9.5, 129, 136], [10.4, 127, 134], [11.3, 126, 133], [12.3, 123, 131], [13.4, 125, 133], [14.6, 122, 132], [16, 124, 132], [17.4, 121, 132], [19, 123, 131], [20.7, 122, 132], [22.5, 123, 130], [24.2, 121, 131], [25.6, 123, 130]];

// Annotation anchors (data coords of the small "zoom" circles)
const SMALL_CIRCLE = [[4.8, 4.93], [5.2, 6.57], [3.8, 12.02], [0.7, 9.92]];

const P_SIM = [P1_SIM, P2_SIM, P3_SIM, P4_SIM];
const P_EXP = [P1_EXP, P2_EXP, P3_EXP, P4_EXP];
const P_SD = [P1_SD, P2_SD, P3_SD, P4_SD];
const R_SIM = [R1_SIM, R2_SIM, R3_SIM, R4_SIM];
const R_EXP = [R1_EXP, R2_EXP, R3_EXP, R4_EXP];
const S_SIM = [S1_SIM, S2_SIM, S3_SIM, S4_SIM];
const S_EXP = [S1_EXP, S2_EXP, S3_EXP, S4_EXP];
const S_SD = [S1_SD, S2_SD, S3_SD, S4_SD];
const S_EXP_DENSE = [S1_EXP_DENSE, S2_EXP_DENSE, S3_EXP_DENSE, S4_EXP_DENSE];
const S_SIM_DENSE = [S1_SIM_DENSE, S2_SIM_DENSE, S3_SIM_DENSE, S4_SIM_DENSE];

// ---------------- LAYOUT / STYLE ----------------
const W = 1374, H = 1351;
const FONT = '"Liberation Sans", Arial, Helvetica, sans-serif';
const RED = '#b3152f';
const PINK = '#f0b7bc';
const BLACK = '#161616';
const PANEL = '#e5e5e5';
const BLUE = '#1ea0db';
const LABEL = '#4f4f4f';
const TITLE_Y = [20, 358, 695, 1032];
const MAIN_GRID = [
  { left: 104, top: 54, width: 412, height: 235 },
  { left: 98, top: 391, width: 411, height: 235 },
  { left: 98, top: 728, width: 411, height: 234 },
  { left: 98, top: 1064, width: 411, height: 234 },
];
const SPL_GRID = [
  { left: 961, top: 54, width: 409, height: 235 },
  { left: 961, top: 391, width: 409, height: 235 },
  { left: 961, top: 728, width: 409, height: 234 },
  { left: 961, top: 1064, width: 409, height: 234 },
];
const ZOOM = [
  { cx: 727, cy: 172, r: 123, x: [-14.77, 23.08], y: [3.332, 5.949] },
  { cx: 727, cy: 510, r: 123, x: [-11.1, 22.6], y: [4.483, 7.9] },
  { cx: 727, cy: 846, r: 123.5, x: [-10.15, 23.5], y: [8.149, 14.598] },
  { cx: 727, cy: 1185, r: 124, x: [-16.14, 19.29], y: [6.808, 11.67] },
];
const LEFT_NAME_GAP = [32, 33, 41, 41];
const RIGHT_NAME_GAP = [33, 34, 34, 34];
const TICK_FS = 16;
const NAME_FS = 18.5;

const lx = (f: number) => Math.log10(f);
const SPL_TICK_LOG = SPL_TICK_KHZ.map(lx);

const tickLabel = { color: LABEL, fontSize: TICK_FS, fontFamily: FONT };
const nameRich = {
  b: { fontFamily: FONT, fontSize: NAME_FS, fontWeight: 'bold', color: '#1e1e1e' },
  i: { fontFamily: FONT, fontSize: NAME_FS, fontWeight: 'bold', fontStyle: 'italic', color: '#1e1e1e' },
};
const richName = (a: string, it: string, c: string) => `{b|${a}}{i|${it}}{b|${c}}`;

function gridLineSeries(xIdx: number, yIdx: number, xs: number[], ys: number[], anchor: number[]) {
  return {
    type: 'line', xAxisIndex: xIdx, yAxisIndex: yIdx, data: [anchor], symbol: 'none',
    lineStyle: { opacity: 0 }, silent: true, z: 1,
    markLine: {
      silent: true, z: 1, symbol: ['none', 'none'], label: { show: false },
      lineStyle: { color: '#ffffff', width: 2.5, type: 'solid' },
      emphasis: { disabled: true },
      data: [...xs.map((x) => ({ xAxis: x })), ...ys.map((y) => ({ yAxis: y }))],
    },
  };
}

// filled band between a lower and an upper curve, positioned through the axes (api.coord)
function bandSeries(name: string, xIdx: number, yIdx: number, lower: number[][], upper: number[][], color: string, z: number) {
  return {
    type: 'custom', name, xAxisIndex: xIdx, yAxisIndex: yIdx, silent: true, clip: true, z,
    itemStyle: { color },
    data: [[lower[0][0], lower[0][1]]],
    renderItem: (_p: any, api: any) => {
      const pts = [...upper.map((p) => api.coord(p)), ...lower.slice().reverse().map((p) => api.coord(p))];
      return { type: 'polygon', shape: { points: pts }, style: { fill: color, stroke: null } };
    },
  };
}

function pressureSeries(r: number, xIdx: number, yIdx: number, lwRed: number, lwBlack: number) {
  const exp = P_EXP[r], sim = P_SIM[r], sd = P_SD[r];
  const lower = PRESS_ANGLE.map((a, i) => [a, exp[i] - sd[i]]);
  const upper = PRESS_ANGLE.map((a, i) => [a, exp[i] + sd[i]]);
  const common = { xAxisIndex: xIdx, yAxisIndex: yIdx, symbol: 'none', smooth: 0.15, silent: true, z: 3 };
  return [
    bandSeries('±SD', xIdx, yIdx, lower, upper, PINK, 2),
    { ...common, type: 'line', name: 'Experiment', data: PRESS_ANGLE.map((a, i) => [a, exp[i]]), lineStyle: { color: RED, width: lwRed }, itemStyle: { color: RED } },
    { ...common, type: 'line', name: 'Simulation', data: PRESS_ANGLE.map((a, i) => [a, sim[i]]), lineStyle: { color: BLACK, width: lwBlack }, itemStyle: { color: BLACK } },
  ];
}

function buildOption() {
  const grid: any[] = [], xAxis: any[] = [], yAxis: any[] = [], series: any[] = [];
  for (let r = 0; r < 4; r++) {
    const mg = MAIN_GRID[r], sg = SPL_GRID[r], zc = ZOOM[r];
    grid.push({ ...mg, show: true, backgroundColor: PANEL, borderWidth: 0 });
    grid.push({ left: zc.cx - zc.r, top: zc.cy - zc.r, width: 2 * zc.r, height: 2 * zc.r, show: true, backgroundColor: PANEL, borderWidth: 0 });
    grid.push({ ...sg, show: true, backgroundColor: PANEL, borderWidth: 0 });

    const gi = 3 * r;
    xAxis.push({
      type: 'value', gridIndex: gi, min: -71, max: 71,
      splitLine: { show: false }, axisLine: { show: false },
      axisTick: { show: false, customValues: CA_TICKS },
      axisLabel: { ...tickLabel, margin: 8, customValues: CA_TICKS },
      name: richName('Crank angle [', 'cad aTDC', ']'), nameLocation: 'middle', nameGap: 28,
      nameTextStyle: { rich: nameRich },
    });
    xAxis.push({ type: 'value', gridIndex: gi + 1, min: zc.x[0], max: zc.x[1], show: false });
    xAxis.push({
      type: 'value', gridIndex: gi + 2, min: lx(FREQ_MIN), max: lx(FREQ_MAX),
      splitLine: { show: false }, axisLine: { show: false },
      axisTick: { show: false, customValues: SPL_TICK_LOG },
      axisLabel: {
        ...tickLabel, margin: 8, customValues: SPL_TICK_LOG,
        formatter: (v: number) => {
          const k = SPL_TICK_LOG.findIndex((t) => Math.abs(t - v) < 1e-6);
          return k >= 0 ? SPL_TICK_LABELS[k] : '';
        },
      },
      name: richName('Frequency [', 'kHz', ']'), nameLocation: 'middle', nameGap: 28,
      nameTextStyle: { rich: nameRich },
    });

    yAxis.push({
      type: 'value', gridIndex: gi, min: 0, max: PRESS_MAX[r], interval: PRESS_STEP[r], position: 'left',
      splitLine: { show: true, lineStyle: { color: '#ffffff', width: 2.5 } },
      axisLine: { show: false }, axisTick: { show: false },
      axisLabel: { ...tickLabel, margin: 5, formatter: (v: number) => v.toFixed(1) },
      name: richName('Cylinder pressure [', 'MPa', ']'), nameLocation: 'middle', nameGap: LEFT_NAME_GAP[r], nameRotate: 90,
      nameTextStyle: { rich: nameRich },
    });
    yAxis.push({
      type: 'value', gridIndex: gi, min: 0, max: ROHR_MAX[r], interval: ROHR_STEP[r], position: 'right',
      splitLine: { show: false }, axisLine: { show: false }, axisTick: { show: false },
      axisLabel: { ...tickLabel, margin: 6 },
      name: richName('RoHR [', 'J/cad', ']'), nameLocation: 'middle', nameGap: RIGHT_NAME_GAP[r], nameRotate: 90,
      nameTextStyle: { rich: nameRich },
    });
    yAxis.push({ type: 'value', gridIndex: gi + 1, min: zc.y[0], max: zc.y[1], show: false });
    yAxis.push({
      type: 'value', gridIndex: gi + 2, min: SPL_MIN, max: SPL_MAX, interval: SPL_STEP,
      splitLine: { show: true, lineStyle: { color: '#ffffff', width: 2.5 } },
      axisLine: { show: false }, axisTick: { show: false },
      axisLabel: { ...tickLabel, margin: 6 },
      name: richName('SPL [', 'dB', ']'), nameLocation: 'middle', nameGap: 42, nameRotate: 90,
      nameTextStyle: { rich: nameRich },
    });

    const yl = 4 * r, yr = 4 * r + 1, yz = 4 * r + 2, ys = 4 * r + 3;
    // main plot
    series.push(gridLineSeries(gi, yl, CA_TICKS, [], [CA_TICKS[0], 0]));
    series.push(...pressureSeries(r, gi, yl, 1.8, 2.2));
    series.push({ type: 'line', name: 'Experiment', xAxisIndex: gi, yAxisIndex: yr, data: R_EXP[r], symbol: 'none', silent: true, z: 3, lineStyle: { color: RED, width: 1.8 }, itemStyle: { color: RED } });
    series.push({ type: 'line', name: 'Simulation', xAxisIndex: gi, yAxisIndex: yr, data: R_SIM[r], symbol: 'none', silent: true, z: 3, lineStyle: { color: BLACK, width: 2 }, itemStyle: { color: BLACK } });
    series.push({
      type: 'scatter', xAxisIndex: gi, yAxisIndex: yl, data: [SMALL_CIRCLE[r]], symbol: 'circle', symbolSize: 68, silent: true, z: 6,
      itemStyle: { color: 'rgba(0,0,0,0)', borderColor: '#8d8d8d', borderWidth: 1.2 },
    });

    // zoom plot
    const zxLines = [-20, 0, 20].filter((v) => v > zc.x[0] && v < zc.x[1]);
    const zyLines: number[] = [];
    for (let k = 0; k <= 10; k++) {
      const v = +(k * PRESS_STEP[r]).toFixed(3);
      if (v > zc.y[0] && v < zc.y[1]) zyLines.push(v);
    }
    series.push(gridLineSeries(gi + 1, yz, zxLines, zyLines, [0, zc.y[0]]));
    series.push(...pressureSeries(r, gi + 1, yz, 2.6, 2.8));

    // SPL plot
    series.push(gridLineSeries(gi + 2, ys, SPL_TICK_LOG, [], [0, SPL_MIN]));
    const sd = S_SD[r];
    series.push(bandSeries('±SD', gi + 2, ys, sd.map((t) => [lx(t[0]), t[1]]), sd.map((t) => [lx(t[0]), t[2]]), PINK, 2));
    const ed = S_EXP_DENSE[r], kd = S_SIM_DENSE[r];
    series.push(bandSeries('Experiment', gi + 2, ys, ed.map((t) => [lx(t[0]), t[1]]), ed.map((t) => [lx(t[0]), t[2]]), RED, 3));
    series.push({ type: 'line', name: 'Experiment', xAxisIndex: gi + 2, yAxisIndex: ys, symbol: 'none', silent: true, z: 4, data: S_EXP[r].map((p) => [lx(p[0]), p[1]]), lineStyle: { color: RED, width: 1.8 }, itemStyle: { color: RED } });
    series.push(bandSeries('Simulation', gi + 2, ys, kd.map((t) => [lx(t[0]), t[1]]), kd.map((t) => [lx(t[0]), t[2]]), BLACK, 5));
    series.push({ type: 'line', name: 'Simulation', xAxisIndex: gi + 2, yAxisIndex: ys, symbol: 'none', silent: true, z: 6, data: S_SIM[r].map((p) => [lx(p[0]), p[1]]), lineStyle: { color: BLACK, width: 2.1 }, itemStyle: { color: BLACK } });
  }

  return {
    animation: false,
    backgroundColor: '#ffffff',
    textStyle: { fontFamily: FONT },
    grid, xAxis, yAxis, series,
    legend: {
      show: true, orient: 'vertical', left: 126, top: 58, itemWidth: 20, itemHeight: 2.5, itemGap: 4.5,
      selectedMode: false,
      textStyle: { fontFamily: FONT, fontStyle: 'italic', fontSize: 19, color: '#1e1e1e', lineHeight: 19, padding: [0, 0, 0, 5] },
      data: [
        { name: 'Experiment', icon: 'rect', itemStyle: { color: RED } },
        { name: '±SD', icon: 'rect', itemStyle: { color: PINK } },
        { name: 'Simulation', icon: 'rect', itemStyle: { color: BLACK } },
      ],
    },
  };
}

function buildGraphic(chart: any) {
  const els: any[] = [];
  els.push({ type: 'line', silent: true, z: 0, shape: { x1: 31, y1: 5.5, x2: W, y2: 5.5 }, style: { stroke: '#dadada', lineWidth: 1 } });
  els.push({ type: 'line', silent: true, z: 0, shape: { x1: 31.5, y1: 5.5, x2: 31.5, y2: H }, style: { stroke: '#dadada', lineWidth: 1 } });
  TITLES.forEach((t, r) => {
    els.push({
      type: 'text', silent: true, z: 10, x: 34, y: TITLE_Y[r],
      style: { text: t, font: `bold 24px ${FONT}`, fill: BLUE, textVerticalAlign: 'middle', verticalAlign: 'middle' },
    });
  });
  els.push({
    type: 'text', silent: true, z: 10, x: 16, y: 1281, rotation: Math.PI / 2,
    style: { text: '© SAE International', font: '15px "Open Sans", "DejaVu Sans", sans-serif', fill: '#3a3a3a', textAlign: 'center', align: 'center', textVerticalAlign: 'middle', verticalAlign: 'middle' },
  });
  ZOOM.forEach((zc, r) => {
    const L = zc.cx - zc.r - 3, R = zc.cx + zc.r + 3, T = zc.cy - zc.r - 3, B = zc.cy + zc.r + 3;
    const pts: number[][] = [[L, zc.cy], [L, T], [R, T], [R, B], [L, B], [L, zc.cy]];
    const N = 180;
    for (let k = 0; k <= N; k++) {
      const t = (k / N) * 2 * Math.PI;
      pts.push([zc.cx - zc.r * Math.cos(t), zc.cy + zc.r * Math.sin(t)]);
    }
    els.push({ type: 'polygon', silent: true, z: 100, shape: { points: pts }, style: { fill: '#ffffff', stroke: 'none' } });
    els.push({ type: 'circle', silent: true, z: 101, shape: { cx: zc.cx, cy: zc.cy, r: zc.r }, style: { fill: 'none', stroke: '#9a9a9a', lineWidth: 1.6 } });
    const c = chart.convertToPixel({ xAxisIndex: 3 * r, yAxisIndex: 4 * r }, SMALL_CIRCLE[r]);
    if (c && isFinite(c[0])) {
      const ex = zc.cx - 121, ey = zc.cy - 25;
      const dx = ex - c[0], dy = ey - c[1], d = Math.hypot(dx, dy);
      const sx = c[0] + (dx / d) * 34, sy = c[1] + (dy / d) * 34;
      els.push({ type: 'line', silent: true, z: 101, shape: { x1: sx, y1: sy, x2: ex, y2: ey }, style: { stroke: '#8d8d8d', lineWidth: 1 } });
    }
  });
  return els;
}

export default function App() {
  const ref = useRef<HTMLDivElement>(null);
  useEffect(() => {
    if (!ref.current) return;
    const chart = echarts.init(ref.current, null, { renderer: 'svg' });
    chart.setOption(buildOption() as any);
    chart.setOption({ graphic: { elements: buildGraphic(chart) } } as any);
    return () => chart.dispose();
  }, []);
  return <div ref={ref} style={{ position: 'fixed', left: 0, top: 0, width: W, height: H, background: '#ffffff' }} />;
}
